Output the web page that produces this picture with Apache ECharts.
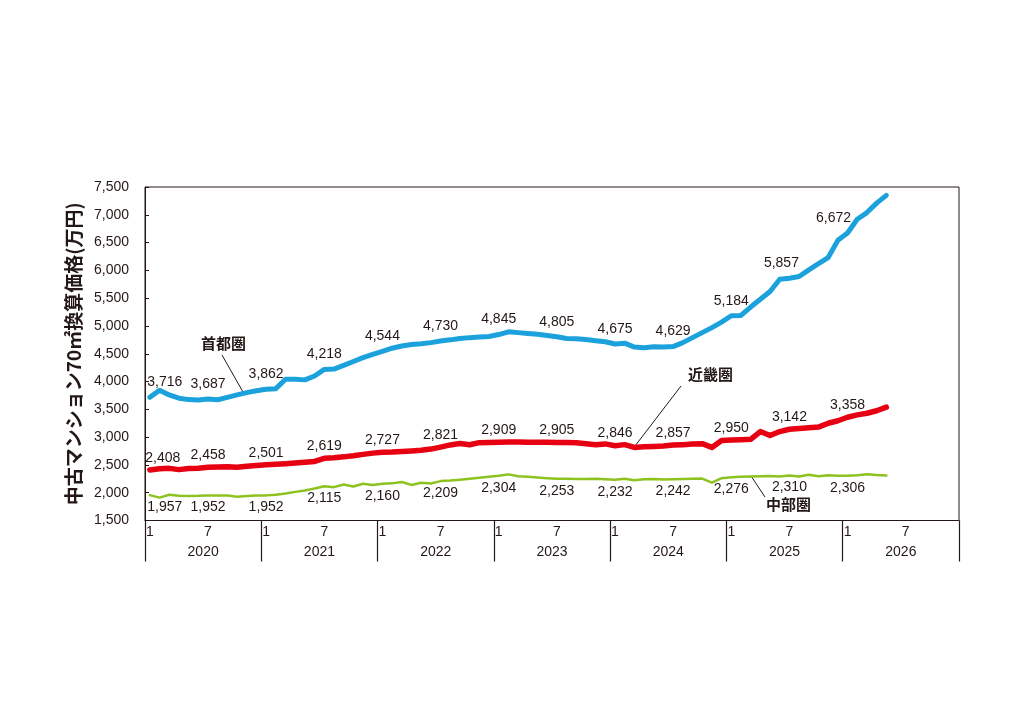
<!DOCTYPE html>
<html>
<head>
<meta charset="utf-8">
<script src="https://cdn.jsdelivr.net/npm/echarts@6/dist/echarts.min.js"></script>
<style>
  html, body { margin: 0; padding: 0; background: #fff; }
  #main { width: 1024px; height: 724px; }
</style>
</head>
<body>
<div id="main"></div>
<script>
// 年・月（横軸）
var years = ['2020', '2021', '2022', '2023', '2024', '2025', '2026'];
var monthLabels = { 1: '1', 7: '7' };

// 中古マンション70㎡換算価格（万円）2020年1月〜
var shutoken = [
  3716, 3845, 3760, 3700, 3675, 3668, 3687, 3672, 3715, 3760, 3800, 3835,
  3862, 3872, 4040, 4042, 4030, 4100, 4218, 4225, 4290, 4360, 4430, 4490,
  4544, 4600, 4640, 4665, 4680, 4700, 4730, 4750, 4775, 4790, 4800, 4810,
  4845, 4895, 4880, 4865, 4850, 4830, 4805, 4775, 4770, 4755, 4735, 4715,
  4675, 4690, 4620, 4610, 4625, 4620, 4629, 4700, 4790, 4880, 4970, 5070,
  5184, 5190, 5340, 5480, 5620, 5840, 5857, 5890, 6010, 6120, 6230, 6540,
  6672, 6920, 7040, 7210, 7350
];
var kinki = [
  2408, 2430, 2438, 2415, 2435, 2442, 2458, 2462, 2466, 2458, 2475, 2490,
  2501, 2510, 2522, 2535, 2548, 2562, 2619, 2630, 2645, 2665, 2690, 2712,
  2727, 2732, 2742, 2752, 2765, 2785, 2821, 2860, 2885, 2862, 2900, 2905,
  2909, 2912, 2912, 2910, 2908, 2906, 2905, 2905, 2898, 2880, 2862, 2878,
  2846, 2865, 2815, 2825, 2832, 2842, 2857, 2865, 2875, 2882, 2815, 2940,
  2950, 2955, 2960, 3100, 3030, 3100, 3142, 3155, 3170, 3180, 3250, 3295,
  3358, 3400, 3430, 3475, 3540
];
var chubu = [
  1957, 1912, 1962, 1945, 1942, 1945, 1952, 1950, 1948, 1928, 1942, 1948,
  1952, 1962, 1985, 2015, 2040, 2075, 2115, 2100, 2148, 2112, 2160, 2138,
  2160, 2168, 2192, 2140, 2178, 2165, 2209, 2220, 2235, 2250, 2268, 2285,
  2304, 2330, 2295, 2285, 2272, 2262, 2253, 2250, 2248, 2245, 2250, 2240,
  2232, 2252, 2225, 2240, 2248, 2238, 2242, 2245, 2250, 2255, 2180, 2262,
  2276, 2285, 2290, 2295, 2300, 2293, 2310, 2292, 2322, 2298, 2312, 2303,
  2306, 2312, 2332, 2318, 2310
];

var ink = '#231815';
var numFont = "'Liberation Sans', Arial, sans-serif";
var jpFont = "'Noto Sans CJK JP', sans-serif";

var months = [];
years.forEach(function (y) {
  for (var m = 1; m <= 12; m++) months.push(y + '-' + m);
});

// 半年ごと（1月・7月）に値ラベル
function withLabels(values, pos, dist, offsets) {
  return values.map(function (v, i) {
    if (i % 6 !== 0) return v;
    return { value: v, label: { show: true, position: pos, distance: dist, offset: offsets[i] || [0, 0] } };
  });
}

function lineSeries(name, values, color, width, pos, dist, offsets) {
  return {
    name: name,
    type: 'line',
    data: withLabels(values, pos, dist, offsets),
    symbol: 'circle',
    symbolSize: 0.1,
    itemStyle: { color: color },
    lineStyle: { color: color, width: width, join: 'round', cap: 'round' },
    label: {
      show: false,
      color: ink,
      fontFamily: numFont,
      fontSize: 14,
      formatter: function (p) { return p.value.toLocaleString('en-US'); }
    },
    emphasis: { disabled: true },
    animation: false,
    z: 3
  };
}

var myChart = echarts.init(document.getElementById('main'));
myChart.setOption({
  backgroundColor: '#fff',
  grid: {
    left: 145, right: 65, top: 187, bottom: 203.5,
    show: true, borderColor: ink, borderWidth: 1, backgroundColor: 'transparent'
  },
  xAxis: [
    {
      type: 'category',
      data: months,
      boundaryGap: true,
      axisLine: { lineStyle: { color: ink, width: 1 } },
      axisTick: { show: false },
      axisLabel: {
        interval: 0,
        margin: 5,
        color: ink,
        fontFamily: numFont,
        fontSize: 14,
        formatter: function (v) { return monthLabels[v.split('-')[1]] || ''; }
      },
      splitLine: { show: false }
    },
    {
      type: 'category',
      data: years,
      position: 'bottom',
      boundaryGap: true,
      axisLine: { show: false },
      axisTick: { show: true, interval: 0, length: 41, lineStyle: { color: ink, width: 1.2 } },
      axisLabel: { interval: 0, margin: 25, color: ink, fontFamily: numFont, fontSize: 14 },
      splitLine: { show: false }
    }
  ],
  yAxis: {
    type: 'value',
    min: 1500,
    max: 7500,
    interval: 500,
    name: '中古マンション70㎡換算価格(万円)',
    nameLocation: 'middle',
    nameRotate: 90,
    nameGap: 62,
    nameTextStyle: { color: ink, fontFamily: jpFont, fontWeight: 'bold', fontSize: 19 },
    axisLine: { show: true, lineStyle: { color: ink, width: 1 } },
    axisTick: { show: true, inside: true, length: 4, lineStyle: { color: ink } },
    axisLabel: {
      margin: 16,
      color: ink,
      fontFamily: numFont,
      fontSize: 14,
      formatter: function (v) { return v.toLocaleString('en-US'); }
    },
    splitLine: { show: false }
  },
  series: [
    lineSeries('首都圏', shutoken, '#1ba1db', 5, 'top', 8, { 0: [15, 0], 66: [-8, 0], 72: [-14, 0] }),
    lineSeries('近畿圏', kinki, '#e60012', 5.5, 'top', 5, { 0: [13, 0] }),
    lineSeries('中部圏', chubu, '#8dc21f', 2.5, 'bottom', 5, { 0: [15, 0] })
  ],
  graphic: [
    { type: 'text', left: 201, top: 336, style: { text: '首都圏', fill: ink, font: "bold 15px 'Noto Sans CJK JP'" } },
    { type: 'line', shape: { x1: 222, y1: 355, x2: 243, y2: 392 }, style: { stroke: ink, lineWidth: 1 } },
    { type: 'text', left: 688, top: 367, style: { text: '近畿圏', fill: ink, font: "bold 15px 'Noto Sans CJK JP'" } },
    { type: 'line', shape: { x1: 681, y1: 386, x2: 635, y2: 446 }, style: { stroke: ink, lineWidth: 1 } },
    { type: 'text', left: 766, top: 497, style: { text: '中部圏', fill: ink, font: "bold 15px 'Noto Sans CJK JP'" } },
    { type: 'line', shape: { x1: 751, y1: 476, x2: 765, y2: 497 }, style: { stroke: ink, lineWidth: 1 } }
  ]
});
</script>
</body>
</html>
